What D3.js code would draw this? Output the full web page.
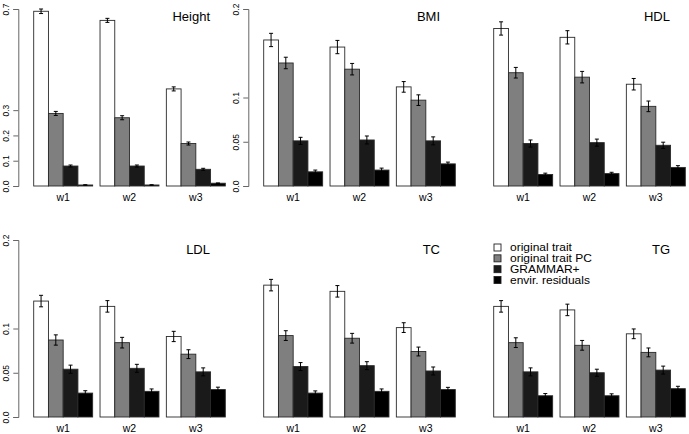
<!DOCTYPE html>
<html>
<head>
<meta charset="utf-8">
<script src="https://cdn.jsdelivr.net/npm/d3@7"></script>
<style>
  body { margin: 0; background: #fff; }
  text { font-family: "Liberation Sans", Arial, sans-serif; }
</style>
</head>
<body>
<div id="vis"></div>
<script>
// data
var traits = ['Height', 'BMI', 'HDL', 'LDL', 'TC', 'TG'];
var waves = ['w1', 'w2', 'w3'];
var seriesNames = ['original trait', 'original trait PC', 'GRAMMAR+', 'envir. residuals'];
var seriesColors = ['#ffffff', '#7f7f7f', '#1a1a1a', '#000000'];

// values[wave][series]
var heightVals = [[0.691, 0.287, 0.079, 0.004], [0.655, 0.270, 0.079, 0.004], [0.384, 0.168, 0.066, 0.011]];
var bmiVals    = [[0.165, 0.139, 0.051, 0.016], [0.157, 0.132, 0.052, 0.018], [0.112, 0.097, 0.051, 0.025]];
var hdlVals    = [[0.178, 0.128, 0.048, 0.013], [0.168, 0.123, 0.049, 0.014], [0.115, 0.090, 0.046, 0.021]];
var ldlVals    = [[0.131, 0.087, 0.054, 0.027], [0.125, 0.084, 0.055, 0.029], [0.091, 0.071, 0.051, 0.031]];
var tcVals     = [[0.149, 0.092, 0.057, 0.027], [0.142, 0.089, 0.058, 0.029], [0.101, 0.074, 0.052, 0.031]];
var tgVals     = [[0.125, 0.084, 0.051, 0.024], [0.121, 0.081, 0.050, 0.024], [0.094, 0.073, 0.053, 0.032]];

// standard errors, same layout
var heightErr = [[0.009, 0.008, 0.004, 0.001], [0.008, 0.008, 0.004, 0.001], [0.008, 0.006, 0.004, 0.001]];
var bmiErr    = [[0.0075, 0.0065, 0.004, 0.002], [0.0075, 0.0065, 0.0045, 0.0022], [0.006, 0.006, 0.0045, 0.002]];
var hdlErr    = [[0.0075, 0.0060, 0.004, 0.0015], [0.0075, 0.0065, 0.0040, 0.0015], [0.0065, 0.0060, 0.0035, 0.0020]];
var ldlErr    = [[0.0065, 0.0058, 0.0046, 0.0027], [0.0065, 0.0060, 0.0045, 0.0027], [0.0058, 0.0050, 0.0045, 0.0027]];
var tcErr     = [[0.0065, 0.0055, 0.0045, 0.0025], [0.0065, 0.0055, 0.0045, 0.0027], [0.0055, 0.0050, 0.0045, 0.0025]];
var tgErr     = [[0.0065, 0.0055, 0.0045, 0.0025], [0.0065, 0.0055, 0.0040, 0.0022], [0.0055, 0.0050, 0.0045, 0.0027]];

var heightTicks = [0, 0.1, 0.2, 0.3, 0.7];
var heightTickLabels = ['0.0', '0.1', '0.2', '0.3', '0.7'];
var otherTicks = [0, 0.05, 0.1, 0.2];
var otherTickLabels = ['0.0', '0.05', '0.1', '0.2'];

var allVals = [heightVals, bmiVals, hdlVals, ldlVals, tcVals, tgVals];
var allErr = [heightErr, bmiErr, hdlErr, ldlErr, tcErr, tgErr];
var withAxis = ['Height', 'BMI', 'LDL'];

// layout
var width = 689;
var height = 434;
var colOffset = [0, 230, 460];
var rowRange = [[186, 9], [417, 240]];
var titleY = [21, 254];
var labelY = [201, 432];

var svg = d3.select('#vis').append('svg')
    .attr('width', width)
    .attr('height', height);

traits.forEach(function (trait, p) {
    var col = p % 3;
    var row = Math.floor(p / 3);
    var ox = colOffset[col];
    var vals = allVals[p];
    var errs = allErr[p];

    var g = svg.append('g')
        .attr('class', 'panel')
        .attr('transform', 'translate(' + ox + ',0)');

    var y = d3.scaleLinear()
        .domain([0, trait === 'Height' ? 0.7 : 0.2])
        .range(rowRange[row]);

    // groups of bars, space 0.5 bar between groups
    var xGroup = d3.scaleBand()
        .domain(waves)
        .range([33.7, 225.3])
        .paddingInner(0.5 / 4.5)
        .paddingOuter(0);

    var xBar = d3.scaleBand()
        .domain(d3.range(seriesNames.length))
        .range([0, xGroup.bandwidth()]);

    waves.forEach(function (w, wi) {
        var gw = g.append('g')
            .attr('transform', 'translate(' + xGroup(w) + ',0)');

        var d = vals[wi].map(function (v, si) {
            return { v: v, e: errs[wi][si], s: si };
        });

        gw.selectAll('.bar').data(d).enter()
            .append('rect')
            .attr('class', 'bar')
            .attr('x', function (d) { return xBar(d.s); })
            .attr('width', xBar.bandwidth())
            .attr('y', function (d) { return y(d.v); })
            .attr('height', function (d) { return y(0) - y(d.v); })
            .attr('fill', function (d) { return seriesColors[d.s]; })
            .attr('stroke', '#2a2a2a')
            .attr('stroke-width', 0.9);

        // error bars
        var eb = gw.selectAll('.err').data(d).enter()
            .append('g')
            .attr('class', 'err')
            .attr('stroke', '#000')
            .attr('stroke-width', 1);
        eb.append('line')
            .attr('x1', function (d) { return xBar(d.s) + xBar.bandwidth() / 2; })
            .attr('x2', function (d) { return xBar(d.s) + xBar.bandwidth() / 2; })
            .attr('y1', function (d) { return y(d.v + d.e); })
            .attr('y2', function (d) { return y(d.v - d.e); });
        [1, -1].forEach(function (sgn) {
            eb.append('line')
                .attr('x1', function (d) { return xBar(d.s) + xBar.bandwidth() / 2 - 2; })
                .attr('x2', function (d) { return xBar(d.s) + xBar.bandwidth() / 2 + 2; })
                .attr('y1', function (d) { return y(d.v + sgn * d.e); })
                .attr('y2', function (d) { return y(d.v + sgn * d.e); });
        });

        gw.append('text')
            .attr('x', xGroup.bandwidth() / 2)
            .attr('y', labelY[row])
            .attr('text-anchor', 'middle')
            .style('font-size', '10.5px')
            .text(w);
    });

    // title
    g.append('text')
        .attr('x', 210)
        .attr('y', titleY[row])
        .attr('text-anchor', 'end')
        .style('font-size', '13px')
        .text(trait);

    // y axis only on some panels
    if (withAxis.indexOf(trait) >= 0) {
        var ticks = trait === 'Height' ? heightTicks : otherTicks;
        var labels = trait === 'Height' ? heightTickLabels : otherTickLabels;
        var yAxis = d3.axisLeft(y)
            .tickValues(ticks)
            .tickFormat(function (d, i) { return labels[i]; })
            .tickSizeOuter(0)
            .tickSize(5);
        var ax = g.append('g')
            .attr('class', 'y axis')
            .attr('transform', 'translate(18.3,0)')
            .call(yAxis);
        ax.select('.domain').attr('stroke', '#666');
        ax.selectAll('.tick line').attr('stroke', '#666');
        ax.selectAll('.tick text')
            .attr('x', null)
            .attr('dy', null)
            .attr('text-anchor', 'middle')
            .attr('transform', 'translate(-9,0) rotate(-90)')
            .style('font-family', '"Liberation Sans", Arial, sans-serif')
            .style('font-size', '8.5px')
            .attr('fill', '#000');
    }
});

// legend in the TG panel
var legend = svg.append('g')
    .attr('class', 'legend')
    .attr('transform', 'translate(494,0)');
var legY = d3.scalePoint()
    .domain(seriesNames)
    .range([247.5, 280]);
var items = legend.selectAll('.item').data(seriesNames).enter()
    .append('g')
    .attr('class', 'item')
    .attr('transform', function (d) { return 'translate(0,' + legY(d) + ')'; });
items.append('rect')
    .attr('x', 0)
    .attr('y', -3.5)
    .attr('width', 7)
    .attr('height', 7)
    .attr('fill', function (d, i) { return seriesColors[i]; })
    .attr('stroke', '#222')
    .attr('stroke-width', 0.9);
// legend text is wider than it is tall in the original
items.append('text')
    .attr('transform', 'translate(16,3.5) scale(1.2,1)')
    .style('font-size', '10px')
    .text(function (d) { return d; });
</script>
</body>
</html>
